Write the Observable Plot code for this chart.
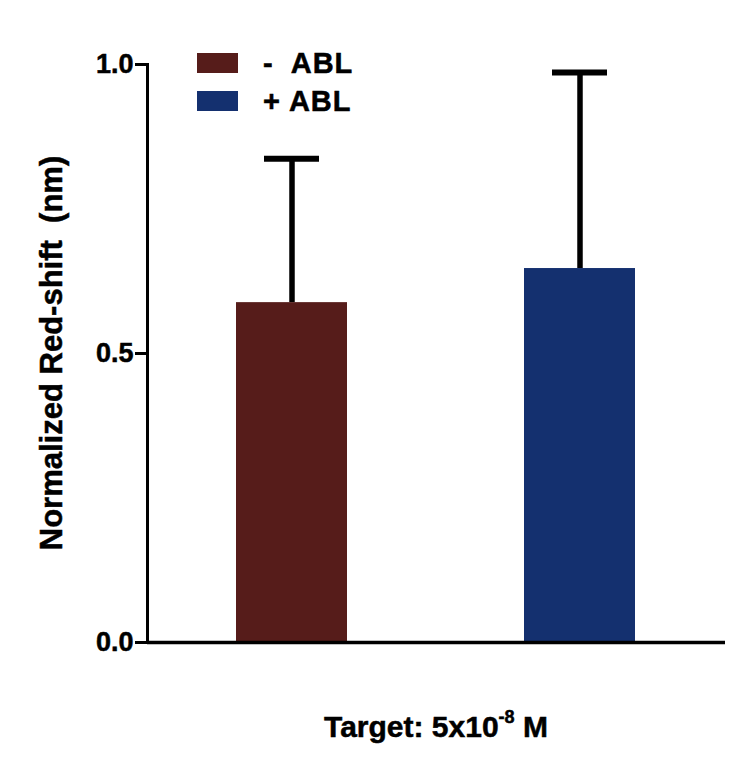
<!DOCTYPE html>
<html>
<head>
<meta charset="utf-8">
<script src="https://cdn.jsdelivr.net/npm/d3@7"></script>
<script src="https://cdn.jsdelivr.net/npm/@observablehq/plot@0.6"></script>
<style>
  html, body { margin: 0; padding: 0; background: #fff; }
  #chart { position: relative; width: 730px; height: 765px; }
  #chart svg { display: block; }
  #chart svg text { stroke: #000; stroke-width: 0.5px; }
</style>
</head>
<body>
<div id="chart"></div>
<script>
const categories = ["-  ABL", "+ ABL"];
const means = [0.588, 0.647];
const sds = [0.249, 0.339];
const colors = ["#561c1a", "#14306f"];
const yTicks = [0, 0.5, 1.0];
const yLabel = "Normalized Red-shift  (nm)";
const xLabelMain = "Target: 5x10";
const xLabelSup = "-8";
const xLabelEnd = " M";

const data = categories.map((g, i) => ({group: g, mean: means[i], top: means[i] + sds[i]}));

const font = "'Liberation Sans', Arial, Helvetica, sans-serif";

const plot = Plot.plot({
  width: 730,
  height: 765,
  marginLeft: 147,
  marginRight: 5,
  marginTop: 64,
  marginBottom: 123,
  style: {fontFamily: font, fontWeight: "bold", fontSize: "27px", color: "#000", background: "#fff"},
  x: {domain: categories, paddingInner: 0.614, paddingOuter: 0.31, axis: null},
  y: {domain: [0, 1]},
  color: {domain: categories, range: colors},
  marks: [
    Plot.ruleX(data, {x: "group", y1: "mean", y2: "top", stroke: "#000", strokeWidth: 5.5}),
    Plot.tickY(data, {x: "group", y: "top", stroke: "#000", strokeWidth: 6, insetLeft: 28, insetRight: 28}),
    Plot.barY(data, {x: "group", y: "mean", fill: "group"}),
    Plot.axisY({ticks: yTicks, tickFormat: ".1f", tickSize: 12, tickPadding: 2, strokeWidth: 3,
      fontSize: 27, label: null}),
    Plot.frame({anchor: "left", strokeWidth: 3}),
    Plot.ruleY([0], {strokeWidth: 3.5})
  ]
});

document.getElementById("chart").appendChild(plot);

const svg = d3.select(plot);
const xr = plot.scale("x").range;
const yr = plot.scale("y").range;
const cx = (xr[0] + xr[1]) / 2;
const cy = (yr[0] + yr[1]) / 2;

// y-axis title
svg.append("text")
  .attr("transform", `translate(62,${cy}) rotate(-90)`)
  .attr("text-anchor", "middle")
  .style("font-family", font).style("font-weight", "bold").style("font-size", "31px")
  .style("white-space", "pre")
  .attr("fill", "#000").text(yLabel);

// x-axis title with superscript
const t = svg.append("text")
  .attr("x", cx).attr("y", 737)
  .attr("text-anchor", "middle")
  .style("font-family", font).style("font-weight", "bold").style("font-size", "30px")
  .style("white-space", "pre")
  .attr("fill", "#000");
t.append("tspan").text(xLabelMain);
t.append("tspan").attr("dy", -14).style("font-size", "18px").text(xLabelSup);
t.append("tspan").attr("dy", 14).text(xLabelEnd);

// legend
const lg = svg.append("g").attr("text-anchor", "start");
categories.forEach((c, i) => {
  const y0 = 53 + i * 38;
  lg.append("rect").attr("x", 197).attr("y", y0).attr("width", 41).attr("height", 20).attr("fill", colors[i]);
  lg.append("text").attr("x", 263).attr("y", y0 + 20)
    .attr("text-anchor", "start")
    .style("font-family", font).style("font-weight", "bold").style("font-size", "29px")
    .style("letter-spacing", "1px").style("white-space", "pre")
    .attr("fill", "#000").text(c);
});
</script>
</body>
</html>
